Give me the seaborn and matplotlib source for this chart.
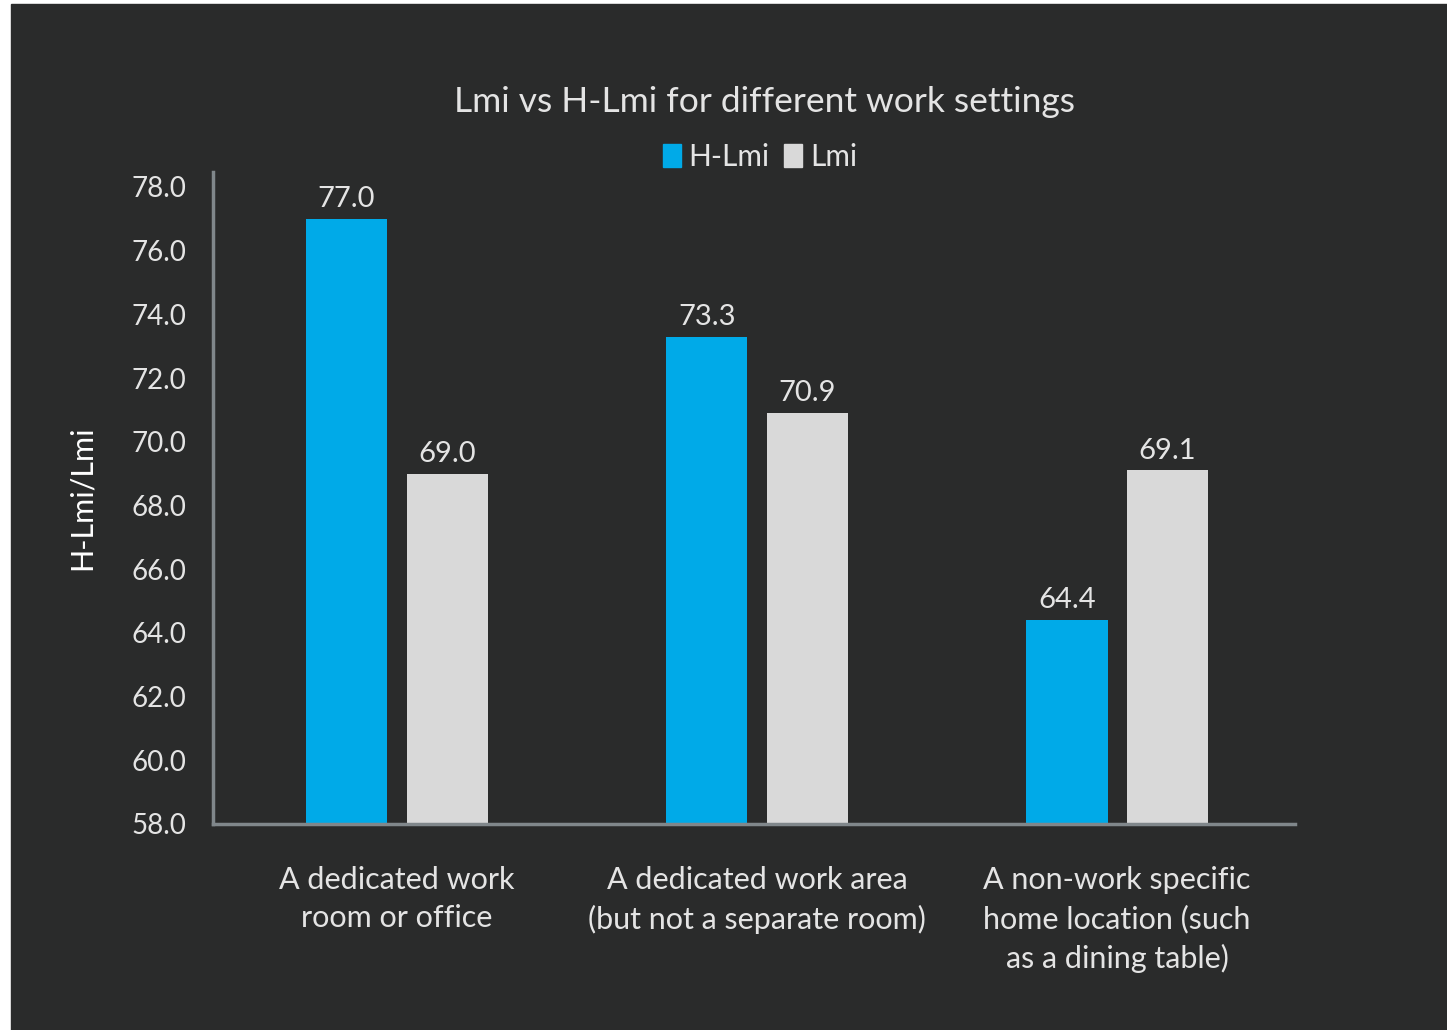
#!/usr/bin/env python3
'''
Lmi vs H-Lmi grouped bar chart for different work settings
'''

import matplotlib
matplotlib.use("Agg")
import matplotlib.pyplot as plt
from matplotlib.patches import Rectangle
import seaborn as sns
import pandas as pd

categories = [
    "A dedicated work\nroom or office",
    "A dedicated work area\n(but not a separate room)",
    "A non-work specific\nhome location (such\nas a dining table)",
]
series = ["H-Lmi", "Lmi"]
h_lmi = [77.0, 73.3, 64.4]
lmi = [69.0, 70.9, 69.1]
yticks = [58, 60, 62, 64, 66, 68, 70, 72, 74, 76, 78]

BG = "#2a2b2b"
TXT = "#e4e4e4"
AXC = "#80878b"
colors = {"H-Lmi": "#00aae8", "Lmi": "#d9d9d9"}


def main():
    sns.set_theme(style="dark")
    plt.rcParams['font.family'] = ['Lato', 'DejaVu Sans']

    df = pd.DataFrame({
        "setting": categories * 2,
        "series": ["H-Lmi"] * 3 + ["Lmi"] * 3,
        "value": h_lmi + lmi,
    })

    fig = plt.figure(figsize=(14.47, 10.30), dpi=100, facecolor="white")
    # dark panel with a thin white margin at left and top
    fig.patches.append(Rectangle((11 / 1447, 0), 1, 1 - 4 / 1030,
                                 transform=fig.transFigure, color=BG, zorder=-10))

    ax = fig.add_axes([213 / 1447, 1 - 824 / 1030, 1082 / 1447, 652 / 1030])
    ax.set_facecolor(BG)

    sns.barplot(data=df, x="setting", y="value", hue="series", order=categories,
                hue_order=series, palette=colors, width=0.56, gap=0.19,
                saturation=1, linewidth=0, ax=ax, legend=False)

    for cont in ax.containers:
        ax.bar_label(cont, fmt="%.1f", padding=5, color=TXT, fontsize=21)

    ax.set_ylim(58, 78.47)
    ax.set_xlim(-0.511, 2.494)
    ax.set_yticks(yticks)
    ax.set_yticklabels([f"{v:.1f}" for v in yticks])
    ax.tick_params(axis="y", colors=TXT, labelsize=20, length=0, pad=19)
    ax.tick_params(axis="x", colors=TXT, labelsize=22, length=0, pad=30)
    for lab in ax.get_xticklabels():
        lab.set_linespacing(1.45)
    ax.grid(False)

    for side in ["top", "right"]:
        ax.spines[side].set_visible(False)
    for side in ["left", "bottom"]:
        ax.spines[side].set_visible(True)
        ax.spines[side].set_color(AXC)
        ax.spines[side].set_linewidth(2.5)

    ax.set_xlabel("")
    ax.set_ylabel("H-Lmi/Lmi", color="white", fontsize=22, labelpad=26)

    fig.text(765 / 1447, 1 - 102 / 1030, "Lmi vs H-Lmi for different work settings",
             ha="center", va="center", color=TXT, fontsize=25.5)

    handles = [Rectangle((0, 0), 1, 1, color=colors[s]) for s in series]
    fig.legend(handles, series, loc="center", bbox_to_anchor=(760 / 1447, 1 - 157 / 1030),
               ncol=2, frameon=False, fontsize=21.5, labelcolor=TXT,
               handlelength=0.6, handleheight=0.8, handletextpad=0.25, columnspacing=0.5)

    fig.savefig("out.png", dpi=100, facecolor=fig.get_facecolor())


if __name__ == "__main__":
    main()
